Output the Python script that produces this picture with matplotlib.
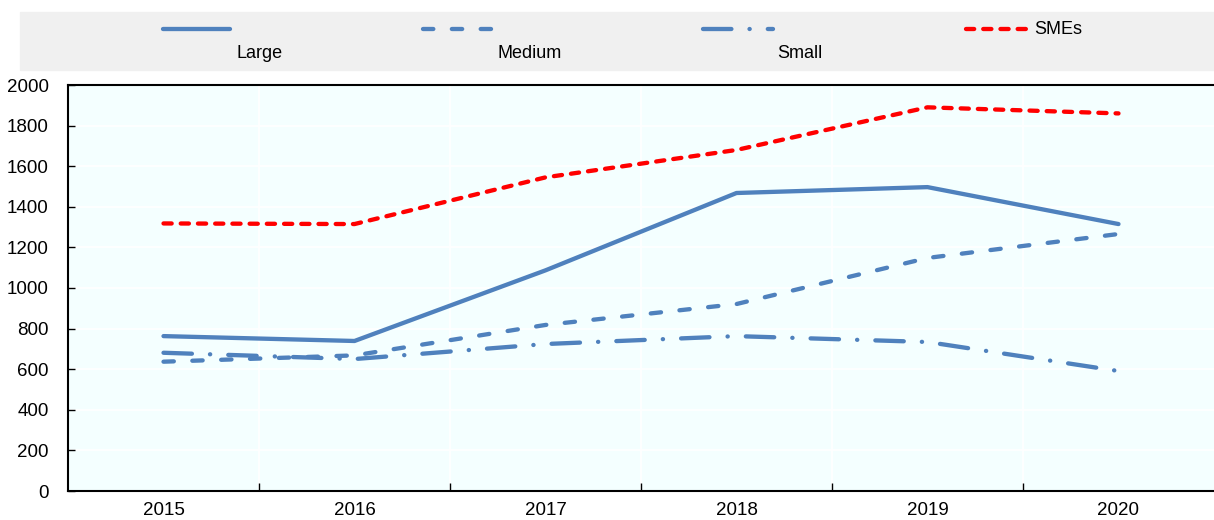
import matplotlib.pyplot as plt
from matplotlib.lines import Line2D

plt.rcParams['font.family'] = ['Liberation Sans', 'DejaVu Sans']

years = ['2015', '2016', '2017', '2018', '2019', '2020']
large = [763, 739, 1087, 1468, 1497, 1315]
medium = [637, 668, 818, 921, 1148, 1266]
small = [681, 650, 724, 763, 734, 591]
smes = [1318, 1315, 1545, 1680, 1890, 1860]

blue = '#4F81BD'
red = '#FF0000'
lw = 3.1

med_dash = (2.4, 4.3)
small_dash = (6.6, 4.2, 0.05, 4.2)
sme_dash = (1.9, 2.1)

fig = plt.figure(figsize=(12.14, 5.2), dpi=100)
ax = fig.add_axes([68 / 1214, 1 - 491 / 520, 1 - 68 / 1214, (491 - 85) / 520])
ax.set_facecolor('#F4FFFF')

x = list(range(len(years)))
ax.plot(x, large, color=blue, lw=lw, solid_capstyle='round', solid_joinstyle='round')
ax.plot(x, medium, color=blue, lw=lw, dashes=med_dash, dash_capstyle='round')
ax.plot(x, small, color=blue, lw=lw, dashes=small_dash, dash_capstyle='round')
ax.plot(x, smes, color=red, lw=lw, dashes=sme_dash, dash_capstyle='round')

ax.set_xlim(-0.5, len(years) - 0.5)
ax.set_ylim(0, 2000)
ax.set_yticks(range(0, 2001, 200))
ax.set_xticks(x)
ax.set_xticklabels(years)
ax.set_xticks([i + 0.5 for i in x[:-1]], minor=True)
ax.tick_params(axis='x', which='major', length=0, labelsize=13.5, pad=8)
ax.tick_params(axis='x', which='minor', direction='in', length=6, width=1)
ax.tick_params(axis='y', direction='in', length=5, width=1, labelsize=13.5, pad=14)

ax.grid(True, axis='y', color='white', lw=1.2)
ax.grid(True, axis='x', which='minor', color='white', lw=1.2)
ax.set_axisbelow(True)
for s in ['left', 'bottom', 'top']:
    ax.spines[s].set_linewidth(1.5)
    ax.spines[s].set_color('black')
ax.spines['right'].set_visible(False)

# legend band
W, H = 1214, 520
fig.patches.append(plt.Rectangle((20 / W, 1 - 70 / H), 1 - 20 / W, 58 / H,
                                 transform=fig.transFigure, color='#F0F0F0', zorder=0))
ly = 1 - 29 / H
ty = 1 - 54 / H
entries = [
    (163, 230, 'Large', 260, dict(solid_capstyle='round'), blue),
    (423, 493, 'Medium', 530, dict(dashes=med_dash, dash_capstyle='round'), blue),
    (703, 773, 'Small', 800, dict(dashes=small_dash, dash_capstyle='round'), blue),
]
for x0, x1, lab, tx, st, c in entries:
    fig.add_artist(Line2D([x0 / W, x1 / W], [ly, ly], color=c, lw=lw, **st))
    fig.text(tx / W, ty, lab, ha='center', va='center', fontsize=13)
fig.add_artist(Line2D([966 / W, 1030 / W], [ly, ly], color=red, lw=lw,
                      dashes=sme_dash, dash_capstyle='round'))
fig.text(1034 / W, ly, 'SMEs', ha='left', va='center', fontsize=13)

fig.savefig('out.png', dpi=100)
